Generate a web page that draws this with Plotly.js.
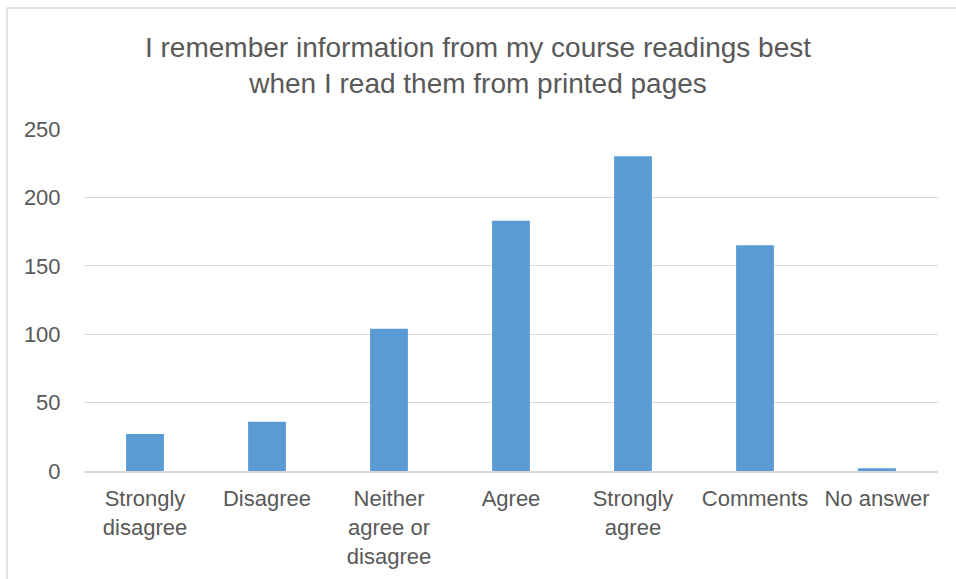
<!DOCTYPE html>
<html>
<head>
<meta charset="utf-8">
<script src="https://cdn.plot.ly/plotly-3.0.1.min.js"></script>
<style>html,body{margin:0;padding:0;background:#fff;}#chart{width:956px;height:579px;}</style>
</head>
<body>
<div id="chart"></div>
<script>
const categories = ["Strongly<br>disagree", "Disagree", "Neither<br>agree or<br>disagree", "Agree", "Strongly<br>agree", "Comments", "No answer"];
const counts = [27, 36, 104, 183, 230, 165, 2];
const yTicks = [0, 50, 100, 150, 200, 250];

const W = 956, H = 579;
const M = {l: 84, r: 18, t: 129, b: 108};
const pw = W - M.l - M.r, ph = H - M.t - M.b;
const font = "Liberation Sans, Arial, sans-serif";
const txt = "#595959";

const data = [{
  type: "bar",
  x: categories,
  y: counts,
  marker: {color: "#5b9bd5", line: {width: 0}},
  hoverinfo: "x+y"
}];

const layout = {
  width: W, height: H,
  margin: M,
  paper_bgcolor: "#fff",
  plot_bgcolor: "#fff",
  bargap: 0.69,
  showlegend: false,
  font: {family: font, color: txt, size: 22},
  title: {
    text: "I remember information from my course readings best<br>when I read them from printed pages",
    font: {family: font, size: 28, color: txt},
    x: 0.5, xanchor: "center",
    yref: "container",
    y: 1 - 57 / H, yanchor: "top"
  },
  xaxis: {
    type: "category",
    showgrid: false,
    showline: true, linecolor: "#d9d9d9", linewidth: 2,
    ticks: "outside", ticklen: 7, tickcolor: "rgba(0,0,0,0)",
    tickfont: {family: font, size: 22, color: txt},
    fixedrange: true
  },
  yaxis: {
    range: [0, 250],
    tickvals: yTicks,
    ticktext: yTicks.map(String),
    showgrid: true, gridcolor: "#d9d9d9", gridwidth: 1.3,
    zeroline: false, showline: false,
    ticks: "outside", ticklen: 18, tickcolor: "rgba(0,0,0,0)",
    tickfont: {family: font, size: 22, color: txt},
    fixedrange: true
  },
  shapes: [{
    type: "rect", xref: "paper", yref: "paper",
    x0: (7 - M.l) / pw, x1: (W + 5 - M.l) / pw,
    y0: -(H + 5 - M.t - ph) / ph, y1: (H - M.b - 8) / ph,
    line: {color: "#d9d9d9", width: 1.5}, fillcolor: "rgba(0,0,0,0)",
    layer: "below"
  }]
};

Plotly.newPlot("chart", data, layout, {displayModeBar: false, staticPlot: true});
</script>
</body>
</html>
